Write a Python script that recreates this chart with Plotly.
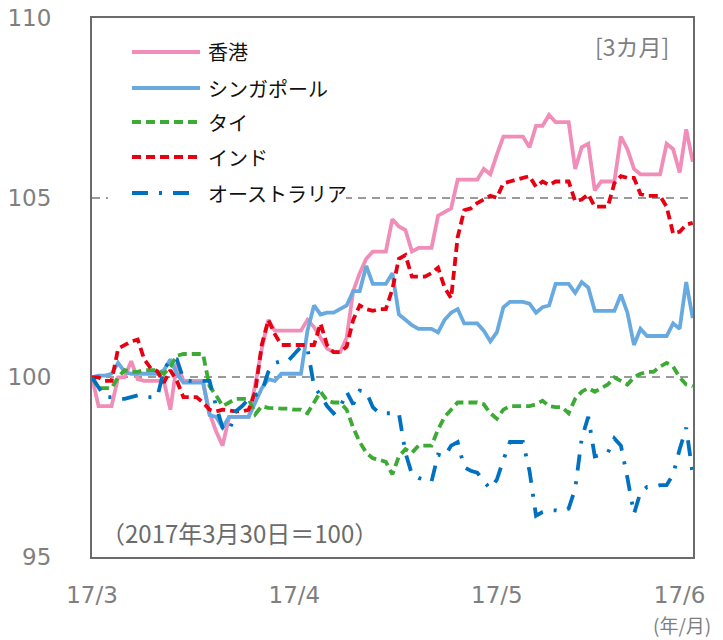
import pandas as pd
import plotly.graph_objects as go

dates = pd.date_range("2017-03-30", "2017-06-30", freq="D").strftime("%Y-%m-%d").tolist()

hongkong = [
    100, 99.2, 99.2, 99.2, 100.0, 100.0, 100.45, 99.95, 99.9, 99.9,
    99.9, 99.9, 99.1, 100.4, 99.9, 99.9, 99.9, 99.9, 99.0, 98.5,
    98.1, 98.9, 98.9, 98.9, 98.9, 99.8, 100.8, 101.6, 101.3, 101.3,
    101.3, 101.3, 101.3, 101.6, 101.4, 101.1, 100.8, 100.7, 100.7, 101.1,
    102.4, 102.9, 103.3, 103.5, 103.5, 103.5, 104.4, 104.2, 104.1, 103.5,
    103.6, 103.6, 103.6, 104.5, 104.6, 104.7, 105.5, 105.5, 105.5, 105.5,
    105.8, 105.65, 106.2, 106.7, 106.7, 106.7, 106.7, 106.4, 107.0, 107.0,
    107.3, 107.1, 107.1, 107.1, 105.8, 106.4, 106.5, 105.2, 105.45, 105.45,
    105.45, 106.7, 106.35, 105.8, 105.65, 105.65, 105.65, 105.65, 106.5, 106.35,
    105.7, 106.9, 106.0,
]

singapore = [
    100, 100.05, 100.05, 100.1, 100.4, 100.15, 100.1, 100.1, 100.1, 100.1,
    100.1, 100.2, 100.5, 100.1, 99.85, 99.85, 99.85, 99.85, 98.95, 98.9,
    98.6, 98.9, 98.9, 98.9, 98.9, 99.3, 99.7, 99.95, 99.9, 100.1,
    100.1, 100.1, 100.1, 101.3, 102.0, 101.75, 101.8, 101.8, 101.9, 102.0,
    102.4, 102.4, 103.1, 102.6, 102.6, 102.6, 102.9, 101.75, 101.6, 101.45,
    101.35, 101.35, 101.35, 101.25, 101.6, 101.8, 101.9, 101.5, 101.5, 101.5,
    101.3, 101.0, 101.25, 101.95, 102.1, 102.1, 102.1, 102.05, 101.8, 101.95,
    102.0, 102.6, 102.6, 102.6, 102.35, 102.65, 102.5, 101.85, 101.85, 101.85,
    101.85, 102.3, 101.8, 100.9, 101.35, 101.15, 101.15, 101.15, 101.15, 101.5,
    101.35, 102.65, 101.65,
]

thailand = [
    100, 99.7, 99.7, 99.7, 100.0, 100.2, 100.15, 100.15, 100.2, 100.2,
    100.2, 100.1, 100.3, 100.6, 100.65, 100.65, 100.65, 100.65, 99.75, 99.5,
    99.2, 99.3, 99.4, 99.4, 99.4, 98.97, 99.2, 99.15, 99.13, 99.13,
    99.13, 99.1, 99.1, 99.0, 99.3, 99.6, 99.35, 99.3, 99.3, 99.1,
    98.6, 98.2, 97.9, 97.75, 97.7, 97.65, 97.3, 97.8, 98.0, 97.9,
    98.1, 98.1, 98.1, 98.55, 98.9, 99.1, 99.3, 99.3, 99.3, 99.3,
    99.25, 99.0, 98.85, 99.1, 99.2, 99.2, 99.2, 99.2, 99.25, 99.35,
    99.2, 99.17, 99.17, 99.0, 99.4, 99.6, 99.7, 99.6, 99.7, 99.8,
    100.0, 99.9, 99.8, 100.0, 100.1, 100.15, 100.15, 100.3, 100.4, 100.3,
    100.0, 99.8, 99.75,
]

india = [
    100, 100, 99.9, 99.9, 100.8, 100.9, 101.0, 101.05, 100.5, 100.25,
    100.17, 99.85, 100.2, 99.9, 99.45, 99.45, 99.45, 99.3, 99.1, 99.05,
    99.1, 99.08, 99.05, 99.05, 99.1, 99.6, 100.9, 101.6, 101.2, 100.9,
    100.9, 100.9, 100.9, 100.9, 100.9, 101.5, 100.9, 100.7, 100.7, 100.85,
    101.6, 102.0, 101.9, 101.85, 101.9, 101.9, 102.45, 103.3, 103.4, 102.8,
    102.8, 102.8, 102.9, 103.05, 102.5, 102.2, 103.9, 104.65, 104.7, 104.85,
    104.95, 105.05, 105.0, 105.4, 105.45, 105.5, 105.55, 105.6, 105.3, 105.45,
    105.35, 105.45, 105.45, 105.45, 104.9, 104.95, 105.1, 104.75, 104.75, 104.75,
    105.4, 105.6, 105.55, 105.55, 105.1, 105.05, 105.05, 105.05, 104.75, 104.0,
    104.05, 104.25, 104.3,
]

australia = [
    100, 99.7, 99.45, 99.45, 99.4, 99.4, 99.45, 99.5, 99.45, 99.45,
    99.45, 100.2, 100.5, 100.5, 99.95, 99.9, 99.9, 99.9, 99.9, 99.2,
    98.6, 98.5, 99.05, 99.2, 99.4, 99.5, 99.6, 100.15, 100.4, 100.45,
    100.45, 100.65, 100.85, 100.8, 99.75, 99.5, 99.2, 99.0, 99.15, 99.6,
    99.25, 99.63, 99.6, 99.17, 99.0, 99.0, 99.0, 99.0, 97.9, 97.3,
    97.2, 97.15, 97.1, 97.85, 97.8, 98.1, 98.2, 97.5, 97.4, 97.35,
    97.1, 96.9, 97.15, 97.7, 98.2, 98.2, 98.2, 97.4, 96.15, 96.25,
    96.3, 96.3, 96.27, 96.35, 96.9, 98.3, 98.9, 97.8, 97.85, 97.9,
    98.3, 98.1, 97.2, 96.2, 96.8, 96.95, 96.95, 97.0, 97.0, 97.3,
    98.0, 98.6, 97.3,
]

series_names = ["香港", "シンガポール", "タイ", "インド", "オーストラリア"]
series_values = [hongkong, singapore, thailand, india, australia]
series_colors = ["#F08DB8", "#68AADF", "#3DAA35", "#E60012", "#0070C0"]
series_dash = ["solid", "solid", "9px,5px", "9px,5px", "16px,11px,3px,11px"]

x_tick_vals = ["2017-03-30", "2017-04-30", "2017-05-31", "2017-06-28"]
x_tick_text = ["17/3", "17/4", "17/5", "17/6"]
y_tick_vals = [95, 100, 105, 110]
y_tick_text = ["95", "100", "105", "110"]

JP = "Noto Sans CJK JP"
NUM = "DejaVu Sans"

fig = go.Figure()
for name, vals, col, dash in zip(series_names, series_values, series_colors, series_dash):
    fig.add_trace(go.Scatter(
        x=dates, y=vals, mode="lines", name=name,
        line=dict(color=col, width=3.8, dash=dash),
        showlegend=False,
    ))

# legend drawn manually (long line samples, as in the original)
L, R, T, B = 92, 693, 18, 557
def px_x(x):
    return (x - L) / (R - L)
def px_y(y):
    return (B - y) / (B - T)

shapes = [dict(type="rect", xref="paper", yref="paper",
               x0=px_x(108), x1=px_x(346), y0=px_y(214), y1=px_y(28),
               fillcolor="white", line=dict(width=0), layer="above")]
annotations = []
rows = [52, 88, 122, 157, 193]
for name, col, dash, ry in zip(series_names, series_colors, series_dash, rows):
    shapes.append(dict(type="line", xref="paper", yref="paper",
                       x0=px_x(132), x1=px_x(200), y0=px_y(ry), y1=px_y(ry),
                       line=dict(color=col, width=3.8, dash=dash), layer="above"))
    annotations.append(dict(text=name, xref="paper", yref="paper",
                            x=px_x(206), y=px_y(ry), xanchor="left", yanchor="middle",
                            showarrow=False, font=dict(family=JP, size=20, color="#111111")))

annotations.append(dict(text="[3カ月]", xref="paper", yref="paper",
                        x=px_x(671), y=px_y(46), xanchor="right", yanchor="middle",
                        showarrow=False, font=dict(family=JP, size=23, color="#7f7f7f")))
annotations.append(dict(text="（2017年3月30日＝100）", xref="paper", yref="paper",
                        x=px_x(99), y=px_y(532), xanchor="left", yanchor="middle",
                        showarrow=False, font=dict(family=JP, size=24, color="#6b6b6b")))
annotations.append(dict(text="(年/月)", xref="paper", yref="paper",
                        x=px_x(713), y=px_y(624), xanchor="right", yanchor="middle",
                        showarrow=False, font=dict(family=JP, size=19, color="#7f7f7f")))

fig.update_layout(
    width=723, height=640,
    margin=dict(l=L, r=723 - R, t=T, b=640 - B, autoexpand=False),
    paper_bgcolor="white", plot_bgcolor="white",
    shapes=shapes, annotations=annotations,
    showlegend=False,
)
fig.update_xaxes(
    type="date", range=["2017-03-30", "2017-06-30 01:00"],
    tickmode="array", tickvals=x_tick_vals, ticktext=x_tick_text,
    showgrid=False, zeroline=False, automargin=False, ticklabeloverflow="allow",
    showline=True, linecolor="#6b6b6b", linewidth=2, mirror=True,
    ticks="outside", ticklen=16, tickcolor="rgba(0,0,0,0)",
    tickfont=dict(family=NUM, size=23, color="#7f7f7f"),
)
fig.update_yaxes(
    range=[95, 110],
    tickmode="array", tickvals=y_tick_vals, ticktext=y_tick_text,
    showgrid=True, gridcolor="#9a9a9a", gridwidth=2, griddash="8px,6px",
    zeroline=False, automargin=False, ticklabeloverflow="allow",
    showline=True, linecolor="#6b6b6b", linewidth=2, mirror=True,
    ticks="outside", ticklen=34, tickcolor="rgba(0,0,0,0)",
    tickfont=dict(family=NUM, size=23, color="#7f7f7f"),
)

fig.write_html(
    "out.html",
    config={"displayModeBar": False},
    post_script="document.body.style.margin='0px';document.body.style.padding='0px';",
)
